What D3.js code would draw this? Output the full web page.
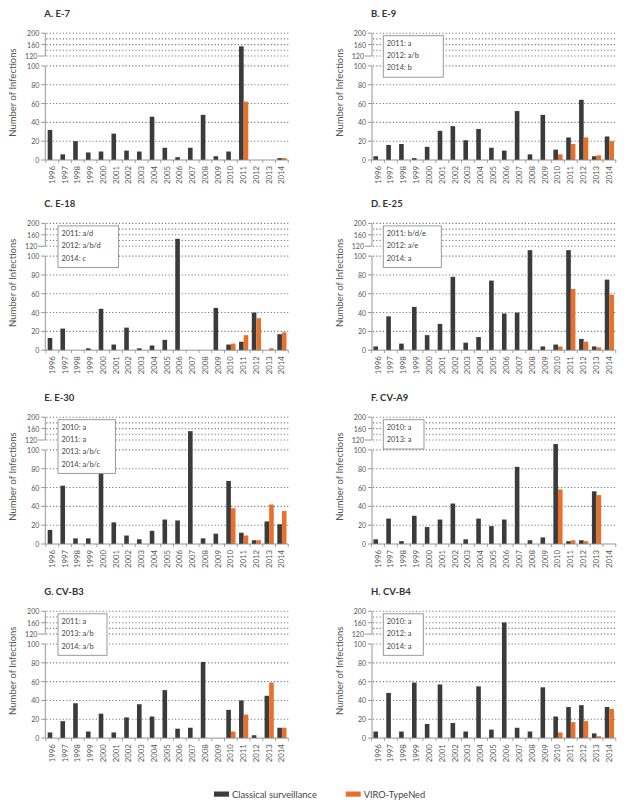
<!DOCTYPE html>
<html>
<head>
<meta charset="utf-8">
<script src="https://cdn.jsdelivr.net/npm/d3@7"></script>
<style>
  html, body { margin: 0; padding: 0; background: #fff; }
  svg { display: block; }
  text { font-family: Lato, "Open Sans", sans-serif; }
</style>
</head>
<body>
<script>
// ---------------- DATA ----------------
const years = ['1996','1997','1998','1999','2000','2001','2002','2003','2004','2005','2006','2007','2008','2009','2010','2011','2012','2013','2014'];
const panelTitles = ['A. E-7','B. E-9','C. E-18','D. E-25','E. E-30','F. CV-A9','G. CV-B3','H. CV-B4'];
const seriesNames = ['Classical surveillance','VIRO-TypeNed'];

const classicalA = [32,6,20,8,9,28,10,9,46,13,3,13,48,4,9,154,0,0,2];
const viroA      = [0,0,0,0,0,0,0,0,0,0,0,0,0,0,0,62,0,0,2];
const classicalB = [4,16,17,2,14,31,36,21,33,13,10,52,6,48,11,24,64,4,25];
const viroB      = [0,0,0,0,0,0,0,0,0,0,0,0,0,0,6,17,24,5,20];
const classicalC = [13,23,0,2,44,6,24,2,5,11,146,0,0,45,6,9,40,0,17];
const viroC      = [0,0,0,0,0,0,0,0,0,0,0,0,0,0,7,16,34,2,19];
const classicalD = [4,36,7,46,16,28,78,8,14,74,39,40,112,4,6,112,12,4,75];
const viroD      = [0,0,0,0,0,0,0,0,0,0,0,0,0,0,4,65,9,3,59];
const classicalE = [15,62,6,6,85,23,9,5,14,26,25,151,6,11,67,12,4,24,21];
const viroE      = [0,0,0,0,0,0,0,0,0,0,0,0,0,0,38,9,4,42,35];
const classicalF = [5,27,3,30,18,26,43,5,27,19,26,82,4,7,112,3,4,56,0];
const viroF      = [0,0,0,0,0,0,0,0,0,0,0,0,0,0,58,4,3,52,0];
const classicalG = [6,18,37,7,26,6,22,36,23,51,10,11,81,0,30,40,3,45,11];
const viroG      = [0,0,0,0,0,0,0,0,0,0,0,0,0,0,7,25,0,59,11];
const classicalH = [7,48,7,59,15,57,16,7,55,9,161,11,7,54,23,33,35,5,33];
const viroH      = [0,0,0,0,0,0,0,0,0,0,0,0,0,0,6,17,18,2,31];

const notesA = [];
const notesB = ['2011: a','2012: a/b','2014: b'];
const notesC = ['2011: a/d','2012: a/b/d','2014: c'];
const notesD = ['2011: b/d/e','2012: a/e','2014: a'];
const notesE = ['2010: a','2011: a','2013: a/b/c','2014: a/b/c'];
const notesF = ['2010: a','2013: a'];
const notesG = ['2011: a','2013: a/b','2014: a/b'];
const notesH = ['2010: a','2012: a','2014: a'];

const yTickValues = [0,20,40,60,80,100,120,160,200];
const gridValues  = [20,40,60,80,100,120,140,160,180,200];
const yBreakDomain = [0,100,120,200];
const yAxisTitle = 'Number of Infections';

// ---------------- LAYOUT / STYLE ----------------
const W = 628, H = 807;
const colors = { classical: '#3b3b3b', viro: '#e8702a', axis: '#8a8a8a', grid: '#7a7a7a', text: '#555', title: '#333' };
const cols = [
  { axisX: 45.3, x0: 45.9, x1: 288.3, yTitleX: 12 },
  { axisX: 372.0, x0: 371.6, x1: 615.8, yTitleX: 339 }
];
const rowTops = [33.2, 223.4, 417.2, 611.3];
const plotH = 126.8;
const yFrac = [0, 0.742, 0.82, 1];
const boxWidths = [0, 60, 60.6, 58, 57.4, 40.7, 49, 40];
const boxX = [58, 383.3];

const panels = [
  { c: classicalA, v: viroA, notes: notesA },
  { c: classicalB, v: viroB, notes: notesB },
  { c: classicalC, v: viroC, notes: notesC },
  { c: classicalD, v: viroD, notes: notesD },
  { c: classicalE, v: viroE, notes: notesE },
  { c: classicalF, v: viroF, notes: notesF },
  { c: classicalG, v: viroG, notes: notesG },
  { c: classicalH, v: viroH, notes: notesH }
];

const svg = d3.select('body').append('svg').attr('width', W).attr('height', H);

panels.forEach((p, i) => {
  const col = cols[i % 2];
  const top = rowTops[Math.floor(i / 2)];
  const bottom = top + plotH;
  const g = svg.append('g');

  const x = d3.scaleBand().domain(years).range([col.x0, col.x1]).paddingInner(0).paddingOuter(0);
  const y = d3.scaleLinear().domain(yBreakDomain).range(yFrac.map(f => bottom - f * plotH));
  const barW = 4.6;

  // title
  g.append('text').attr('x', col.axisX - 1).attr('y', top - 16)
    .attr('font-size', 9.5).attr('font-weight', 700).attr('fill', colors.title)
    .text(panelTitles[i]);

  // y title
  g.append('text')
    .attr('transform', `translate(${col.yTitleX},${top + plotH / 2 - 4}) rotate(-90)`)
    .attr('text-anchor', 'middle').attr('dominant-baseline', 'central')
    .attr('font-size', 9.5).attr('fill', colors.text)
    .text(yAxisTitle);

  // gridlines
  g.selectAll('line.grid').data(gridValues).enter().append('line')
    .attr('class', 'grid')
    .attr('x1', col.axisX + 1).attr('x2', col.x1)
    .attr('y1', d => y(d)).attr('y2', d => y(d))
    .attr('stroke', colors.grid).attr('stroke-width', 1.1)
    .attr('stroke-dasharray', '1.2,2.1');

  // bars
  g.selectAll('rect.cl').data(years).enter().append('rect')
    .attr('x', d => x(d) + x.bandwidth() / 2 - barW)
    .attr('width', barW)
    .attr('y', (d, k) => y(p.c[k]))
    .attr('height', (d, k) => bottom - y(p.c[k]))
    .attr('fill', colors.classical);
  g.selectAll('rect.vi').data(years).enter().append('rect')
    .attr('x', d => x(d) + x.bandwidth() / 2)
    .attr('width', barW)
    .attr('y', (d, k) => y(p.v[k]))
    .attr('height', (d, k) => bottom - y(p.v[k]))
    .attr('fill', colors.viro);

  // y axis with break: 0-100 and 120-200
  const ax = col.axisX;
  g.append('line').attr('x1', ax).attr('x2', ax).attr('y1', y(0)).attr('y2', y(100))
    .attr('stroke', colors.axis).attr('stroke-width', 0.9);
  g.append('line').attr('x1', ax).attr('x2', ax).attr('y1', y(120)).attr('y2', y(200))
    .attr('stroke', colors.axis).attr('stroke-width', 0.9);
  g.selectAll('line.yt').data(yTickValues).enter().append('line')
    .attr('x1', d => (d === 120 ? ax - 7 : ax - 4)).attr('x2', ax)
    .attr('y1', d => y(d)).attr('y2', d => y(d))
    .attr('stroke', colors.axis).attr('stroke-width', 0.9);
  g.selectAll('text.yl').data(yTickValues).enter().append('text')
    .attr('x', d => (d === 120 ? ax - 8 : ax - 6)).attr('y', d => y(d))
    .attr('text-anchor', 'end').attr('dominant-baseline', 'central')
    .attr('font-size', 7).attr('fill', colors.text)
    .text(d => d);

  // x axis
  g.append('line').attr('x1', ax).attr('x2', col.x1).attr('y1', bottom).attr('y2', bottom)
    .attr('stroke', colors.axis).attr('stroke-width', 0.9);
  g.selectAll('line.xt').data(years.concat(['end'])).enter().append('line')
    .attr('x1', (d, k) => col.x0 + k * x.step()).attr('x2', (d, k) => col.x0 + k * x.step())
    .attr('y1', bottom).attr('y2', bottom + 3)
    .attr('stroke', colors.axis).attr('stroke-width', 0.8);
  g.selectAll('text.xl').data(years).enter().append('text')
    .attr('transform', d => `translate(${x(d) + x.bandwidth() / 2 - 0.5},${bottom + 6}) rotate(-90)`)
    .attr('text-anchor', 'end').attr('dominant-baseline', 'central')
    .attr('font-size', 7.8).attr('fill', colors.text)
    .text(d => d);

  // annotation box
  if (p.notes.length) {
    const bx = boxX[i % 2], by = top + 2.5;
    g.append('rect').attr('x', bx).attr('y', by)
      .attr('width', boxWidths[i]).attr('height', 10.3 + (p.notes.length - 1) * 12.2 + 6.8)
      .attr('fill', '#fff').attr('stroke', '#8f8f8f').attr('stroke-width', 0.9);
    g.selectAll('text.note').data(p.notes).enter().append('text')
      .attr('x', bx + 3.5).attr('y', (d, k) => by + 10.3 + k * 12.2)
      .attr('font-size', 7.4).attr('fill', '#444')
      .text(d => d);
  }
});

// legend
const legend = svg.append('g');
const legItems = [
  { name: seriesNames[0], color: colors.classical, x: 214 },
  { name: seriesNames[1], color: colors.viro, x: 345.7 }
];
legItems.forEach(it => {
  legend.append('rect').attr('x', it.x).attr('y', 791.5).attr('width', 15).attr('height', 5.2).attr('fill', it.color);
  legend.append('text').attr('x', it.x + 18).attr('y', 797.6)
    .attr('font-size', 9.3).attr('fill', '#444').text(it.name);
});
</script>
</body>
</html>
